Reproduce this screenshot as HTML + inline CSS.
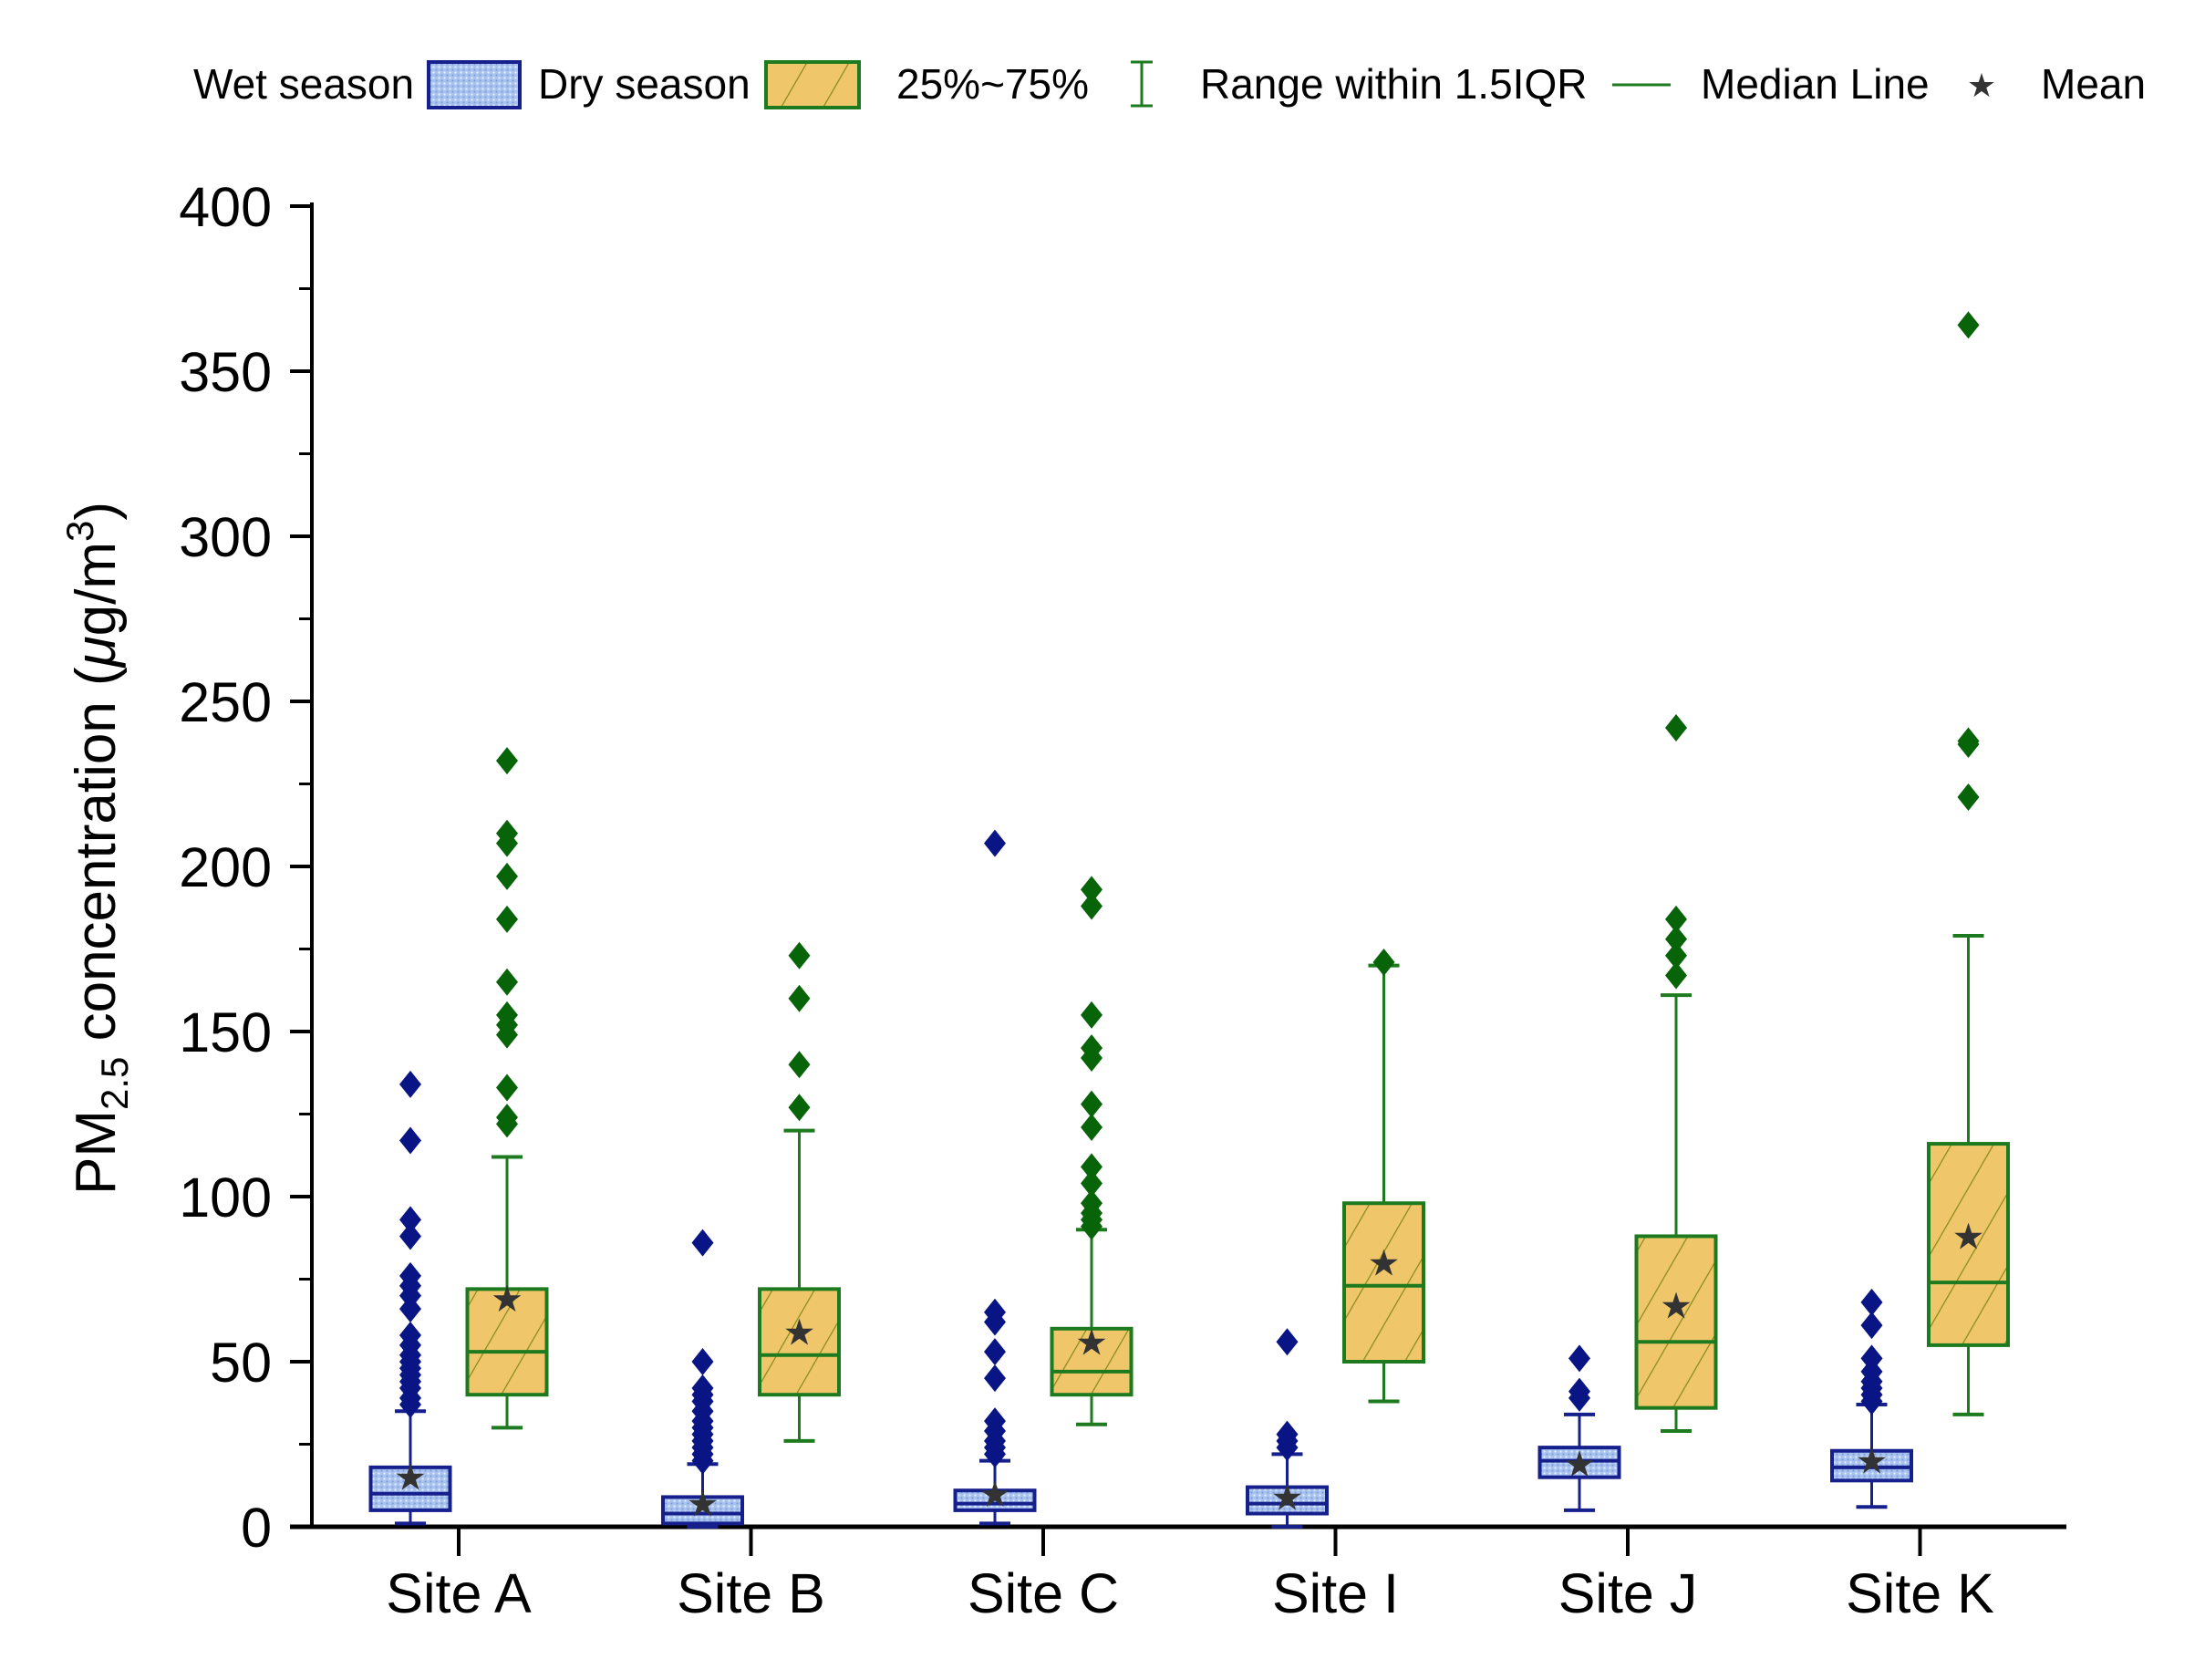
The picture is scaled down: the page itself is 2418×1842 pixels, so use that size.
<!DOCTYPE html>
<html><head><meta charset="utf-8"><style>
html,body{margin:0;padding:0;background:#fff;}
svg{display:block;font-family:"Liberation Sans",Arial,sans-serif;}
</style></head><body>
<svg id="chart" width="2418" height="1842" viewBox="0 0 2418 1842" xmlns="http://www.w3.org/2000/svg">
<defs>
<pattern id="dots" width="6" height="6" patternUnits="userSpaceOnUse">
<rect width="6" height="6" fill="#a9c3ee"/><circle cx="1.5" cy="1.5" r="1.1" fill="#e8f0ff"/><circle cx="4.5" cy="4.5" r="1.1" fill="#7f9fdc"/>
</pattern>
<pattern id="hatch" width="40" height="40" patternUnits="userSpaceOnUse" patternTransform="rotate(30)">
<rect width="40" height="40" fill="#efc76a"/><line x1="0" y1="0" x2="0" y2="40" stroke="#8a8a1a" stroke-width="2.5"/>
</pattern>
</defs>
<g id="legend" font-size="46" fill="#000">
<text x="212" y="108">Wet season</text>
<rect x="470" y="68" width="100" height="50" fill="url(#dots)" stroke="#16208c" stroke-width="4"/>
<text x="590" y="108">Dry season</text>
<rect x="840" y="68" width="102" height="50" fill="url(#hatch)" stroke="#1e7a1e" stroke-width="4"/>
<text x="983" y="108">25%~75%</text>
<g stroke="#1e7a1e" stroke-width="3">
<line x1="1252" y1="68" x2="1252" y2="116"/><line x1="1240" y1="68" x2="1264" y2="68"/><line x1="1240" y1="116" x2="1264" y2="116"/></g>
<text x="1316" y="108">Range within 1.5IQR</text>
<line x1="1768" y1="93" x2="1832" y2="93" stroke="#1e7a1e" stroke-width="3"/>
<text x="1865" y="108">Median Line</text>
<text x="2173" y="106" font-size="36" text-anchor="middle" fill="#333">★</text>
<text x="2238" y="108">Mean</text>
</g>
<text transform="translate(126,930) rotate(-90)" text-anchor="middle" font-size="62">PM<tspan font-size="42" dy="14">2.5</tspan><tspan dy="-14"> concentration (</tspan><tspan font-style="italic">μ</tspan>g/m<tspan font-size="42" dy="-24">3</tspan><tspan dy="24">)</tspan></text>
<g id="plot"></g>
</svg>
<script>
const sites = ["Site A","Site B","Site C","Site I","Site J","Site K"];
const yTicks = [0,50,100,150,200,250,300,350,400];
// [q1, median, q3, whiskerLow, whiskerHigh, mean]
const wetStats = [[5,10,18,1,35,15],[1,4,9,0,19,7],[5,7,11,1,20,10],[4,7,12,0,22,9],[15,20,24,5,34,19],[14,18,23,6,37,20]];
const dryStats = [[40,53,72,30,112,69],[40,52,72,26,120,59],[40,47,60,31,90,56],[50,73,98,38,170,80],[36,56,88,29,161,67],[55,74,116,34,179,88]];
const wetOutliers = [
 [37,39,42,44,46,48,50,52,55,58,66,70,73,76,88,93,117,134],
 [20,22,24,26,28,30,32,35,38,40,42,50,86],
 [22,24,26,29,32,45,53,62,65,207],
 [24,26,28,56],
 [39,41,51],
 [38,40,42,44,47,51,61,68]];
const dryOutliers = [
 [122,124,133,149,152,155,165,184,197,207,210,232],
 [127,140,160,173],
 [91,93,95,98,104,109,121,128,142,145,155,188,193],
 [171],
 [167,173,178,184,242],
 [221,237,238,364]];

const NS="http://www.w3.org/2000/svg";
const plot=document.getElementById('plot');
const X0=342, X1=2266, Y0=1674, YTOP=226;
const y=v=>Y0-(v/400)*(Y0-YTOP);
const xSite=i=>503+i*320.5;
function mk(tag,attrs,parent){const e=document.createElementNS(NS,tag);for(const k in attrs)e.setAttribute(k,attrs[k]);(parent||plot).appendChild(e);return e;}

let ax=mk('line',{x1:X0,y1:YTOP-4,x2:X0,y2:Y0,stroke:'#000','stroke-width':4});


let bx=mk('line',{x1:318,y1:Y0,x2:X1,y2:Y0,stroke:'#000','stroke-width':5});


for(let v=0;v<=400;v+=25){
  const major=v%50===0;
  mk('line',{x1:major?318:328,y1:y(v),x2:X0,y2:y(v),stroke:'#000','stroke-width':major?4:3});
}
yTicks.forEach(v=>{
  const t=mk('text',{x:298,y:y(v)+22,'text-anchor':'end','font-size':61});
  t.textContent=v;
  
  
});
sites.forEach((s,i)=>{
  mk('line',{x1:xSite(i),y1:Y0,x2:xSite(i),y2:Y0+32,stroke:'#000','stroke-width':4});
  const t=mk('text',{x:xSite(i),y:Y0+94,'text-anchor':'middle','font-size':61});
  t.textContent=s;
  
  
});

function box(cx,st,outs,fill,stroke,outColor,name){
  const g=mk('g',{});
  
  
  const [q1,med,q3,wl,wh,mean]=st, w=87;
  mk('line',{x1:cx,y1:y(wh),x2:cx,y2:y(q3),stroke:stroke,'stroke-width':3},g);
  mk('line',{x1:cx,y1:y(q1),x2:cx,y2:y(wl),stroke:stroke,'stroke-width':3},g);
  mk('line',{x1:cx-17,y1:y(wh),x2:cx+17,y2:y(wh),stroke:stroke,'stroke-width':4},g);
  mk('line',{x1:cx-17,y1:y(wl),x2:cx+17,y2:y(wl),stroke:stroke,'stroke-width':4},g);
  mk('rect',{x:cx-w/2,y:y(q3),width:w,height:y(q1)-y(q3),fill:fill,stroke:stroke,'stroke-width':4},g);
  mk('line',{x1:cx-w/2,y1:y(med),x2:cx+w/2,y2:y(med),stroke:stroke,'stroke-width':4},g);
  outs.forEach(v=>{
    const p=mk('polygon',{points:`${cx},${y(v)-15} ${cx+12},${y(v)} ${cx},${y(v)+15} ${cx-12},${y(v)}`,fill:outColor},g);
    
    
  });
  const m=mk('text',{x:cx,y:y(mean)+14,'text-anchor':'middle','font-size':40,fill:'#333'},g);
  m.textContent='★';
  
  
}
sites.forEach((s,i)=>{
  box(xSite(i)-53,wetStats[i],wetOutliers[i],'url(#dots)','#16208c','#0a1585','wet-box-'+i);
  box(xSite(i)+53,dryStats[i],dryOutliers[i],'url(#hatch)','#1e7a1e','#086408','dry-box-'+i);
});
</script>
</body></html>
